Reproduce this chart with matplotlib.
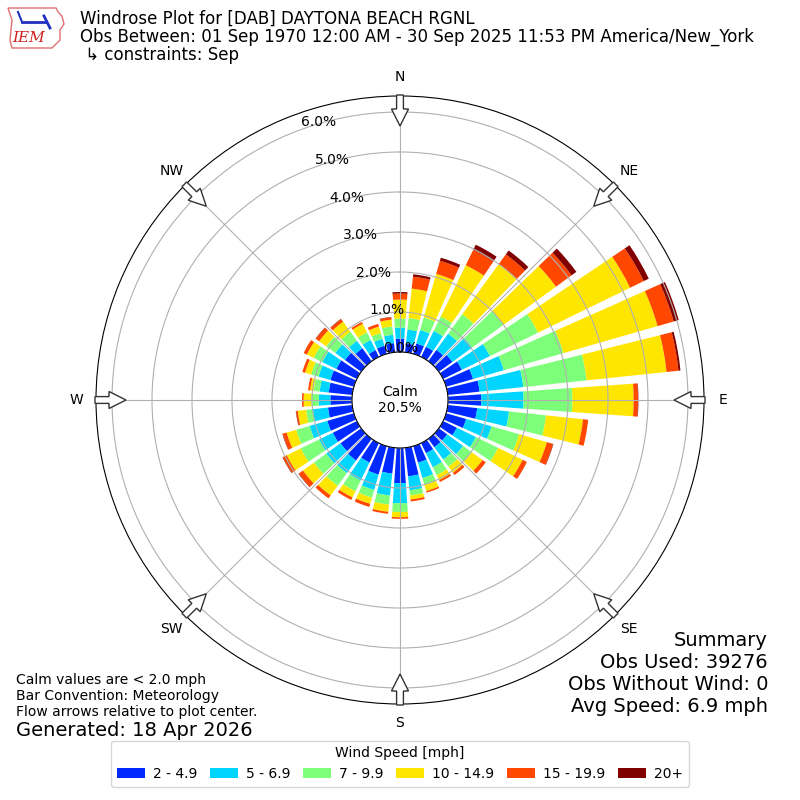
import numpy as np
import matplotlib
matplotlib.use("Agg")
import matplotlib.pyplot as plt
from matplotlib.patches import Polygon

# ---------------- data ----------------
directions = list(range(0, 360, 10))
speed_labels = ["2 - 4.9", "5 - 6.9", "7 - 9.9", "10 - 14.9", "15 - 19.9", "20+"]

spd_2_5 = [0.335, 0.22, 0.27, 0.28, 0.35, 0.42, 0.52, 0.70, 0.80, 0.835,
           0.74, 0.52, 0.38, 0.26, 0.26, 0.28, 0.43, 0.72, 0.88, 0.65,
           0.74, 0.54, 0.67, 0.64, 0.67, 0.69, 0.61, 0.54, 0.59, 0.61,
           0.57, 0.50, 0.40, 0.19, 0.21, 0.23]
spd_5_7 = [0.275, 0.35, 0.35, 0.44, 0.50, 0.61, 0.78, 0.80, 1.10, 1.055,
           0.80, 0.66, 0.53, 0.49, 0.38, 0.39, 0.40, 0.35, 0.50, 0.55,
           0.40, 0.50, 0.39, 0.44, 0.38, 0.46, 0.38, 0.29, 0.23, 0.31,
           0.39, 0.30, 0.23, 0.28, 0.18, 0.21]
spd_7_10 = [0.225, 0.29, 0.33, 0.40, 0.60, 0.97, 1.34, 1.55, 1.59, 1.22,
            0.93, 0.72, 0.62, 0.27, 0.22, 0.22, 0.18, 0.13, 0.22, 0.23,
            0.20, 0.30, 0.39, 0.38, 0.51, 0.35, 0.17, 0.19, 0.15, 0.19,
            0.24, 0.28, 0.28, 0.21, 0.15, 0.21]
spd_10_15 = [0.475, 0.74, 1.13, 1.43, 1.55, 1.62, 2.56, 2.45, 2.01, 1.53,
             0.93, 0.72, 0.68, 0.33, 0.19, 0.14, 0.16, 0.10, 0.13, 0.18,
             0.16, 0.17, 0.30, 0.34, 0.39, 0.25, 0.21, 0.19, 0.09, 0.16,
             0.19, 0.22, 0.31, 0.24, 0.17, 0.17]
spd_15_20 = [0.15, 0.30, 0.34, 0.43, 0.30, 0.48, 0.38, 0.42, 0.30, 0.11,
             0.13, 0.16, 0.12, 0.10, 0.07, 0.05, 0.04, 0.05, 0.04, 0.05,
             0.08, 0.07, 0.09, 0.13, 0.11, 0.10, 0.04, 0.04, 0.05, 0.07,
             0.09, 0.10, 0.08, 0.05, 0.07, 0.06]
spd_20p = [0.04, 0.06, 0.08, 0.14, 0.12, 0.15, 0.14, 0.13, 0.05, 0.01,
           0.00, 0.01, 0.00, 0.00, 0.00, 0.00, 0.00, 0.00, 0.00, 0.00,
           0.00, 0.00, 0.00, 0.01, 0.01, 0.01, 0.01, 0.00, 0.00, 0.00,
           0.00, 0.01, 0.01, 0.00, 0.00, 0.01]

series = [spd_2_5, spd_5_7, spd_7_10, spd_10_15, spd_15_20, spd_20p]
calm_pct = 20.5
r_ticks = [0, 1, 2, 3, 4, 5, 6]
compass = ["N", "NE", "E", "SE", "S", "SW", "W", "NW"]
compass_deg = [0, 45, 90, 135, 180, 225, 270, 315]

# ---------------- figure ----------------
fig = plt.figure(figsize=(8, 8), dpi=100)
ax = fig.add_axes([0.12, 0.12, 0.76, 0.76], projection="polar")
ax.set_theta_zero_location("N")
ax.set_theta_direction(-1)

cmap = plt.get_cmap("jet")
colors = [cmap(i / 6.0) for i in range(1, 7)]

theta = np.deg2rad(directions)
width = np.deg2rad(8.0)
base = np.zeros(len(directions))
handles = []
for vals, col, lab in zip(series, colors, speed_labels):
    v = np.array(vals)
    b = ax.bar(theta, v, width=width, bottom=base, color=col, label=lab,
               linewidth=0, align="center")
    handles.append(b)
    base = base + v

ax.set_ylim(0, 6.4)
ax.set_rorigin(-1.2)
ax.set_rgrids(r_ticks, labels=[f"{t:.1f}%" for t in r_ticks], fontsize=10)
ax.set_rlabel_position(-20)
ax.set_thetagrids(compass_deg, labels=compass, fontsize=10)
ax.grid(True, color="#b0b0b0", linewidth=0.8)

ax.text(0.5, 0.5, f"Calm\n{calm_pct:.1f}%", transform=ax.transAxes,
        ha="center", va="center", fontsize=10, zorder=10)

# flow arrows at the outer ring (axes fraction coordinates)
R_px = 304.0
ax_px = 608.0
for d in compass_deg:
    a = np.deg2rad(d)
    u = np.array([np.sin(a), np.cos(a)])
    v = np.array([np.cos(a), -np.sin(a)])
    c = np.array([0.5, 0.5])
    def P(r, w):
        return c + (u * r + v * w) / ax_px
    pts = [P(R_px + 1, 3.4), P(R_px - 13, 3.4), P(R_px - 13, 8.5), P(R_px - 30, 0),
           P(R_px - 13, -8.5), P(R_px - 13, -3.4), P(R_px + 1, -3.4)]
    ax.add_patch(Polygon(pts, closed=True, transform=ax.transAxes,
                         facecolor="white", edgecolor="#333333", linewidth=1.0,
                         zorder=20, clip_on=False))

# ---------------- texts ----------------
def fy(px):
    return 1 - px / 800.0

fig.text(80 / 800, fy(19), "Windrose Plot for [DAB] DAYTONA BEACH RGNL",
         fontsize=12, va="center", ha="left")
fig.text(80 / 800, fy(37), "Obs Between: 01 Sep 1970 12:00 AM - 30 Sep 2025 11:53 PM America/New_York",
         fontsize=12, va="center", ha="left")
fig.text(80 / 800, fy(55), " \u21b3 constraints: Sep", fontsize=12, va="center", ha="left")

fig.text(16 / 800, fy(680), "Calm values are < 2.0 mph", fontsize=10, va="center")
fig.text(16 / 800, fy(696), "Bar Convention: Meteorology", fontsize=10, va="center")
fig.text(16 / 800, fy(712), "Flow arrows relative to plot center.", fontsize=10, va="center")
fig.text(16 / 800, fy(730), "Generated: 18 Apr 2026", fontsize=14, va="center")

fig.text(768 / 800, fy(640), "Summary", fontsize=14, va="center", ha="right")
fig.text(768 / 800, fy(662), "Obs Used: 39276", fontsize=14, va="center", ha="right")
fig.text(768 / 800, fy(684), "Obs Without Wind: 0", fontsize=14, va="center", ha="right")
fig.text(768 / 800, fy(706), "Avg Speed: 6.9 mph", fontsize=14, va="center", ha="right")

# ---------------- IEM logo (approximation) ----------------
logo_x = [8, 56, 58, 62, 64, 60, 60, 52, 12, 10, 12, 8]
logo_y = [8, 8, 12, 16, 24, 30, 40, 48, 48, 40, 20, 8]
fig.patches.append(Polygon([(x / 800, fy(y)) for x, y in zip(logo_x, logo_y)],
                           closed=True, transform=fig.transFigure,
                           facecolor="white", edgecolor="#e07070", linewidth=1.0))
fig.lines.append(plt.Line2D([22 / 800, 46 / 800], [fy(22), fy(22)],
                            transform=fig.transFigure, color="#2030c0", linewidth=2))
fig.lines.append(plt.Line2D([18 / 800, 22 / 800], [fy(12), fy(22)],
                            transform=fig.transFigure, color="#2030c0", linewidth=1.5))
fig.lines.append(plt.Line2D([44 / 800, 50 / 800], [fy(16), fy(28)],
                            transform=fig.transFigure, color="#2030c0", linewidth=2))
fig.text(29 / 800, fy(38), "IEM", fontsize=11, color="#d02020", ha="center",
         va="center", family="DejaVu Serif", style="italic")

# ---------------- legend ----------------
leg = fig.legend(handles=handles, labels=speed_labels, loc="lower center",
                 bbox_to_anchor=(0.5, 0.008), ncol=6, fontsize=10,
                 title="Wind Speed [mph]", title_fontsize=10,
                 columnspacing=0.9, handletextpad=0.6)

fig.savefig("out.png", dpi=100)
